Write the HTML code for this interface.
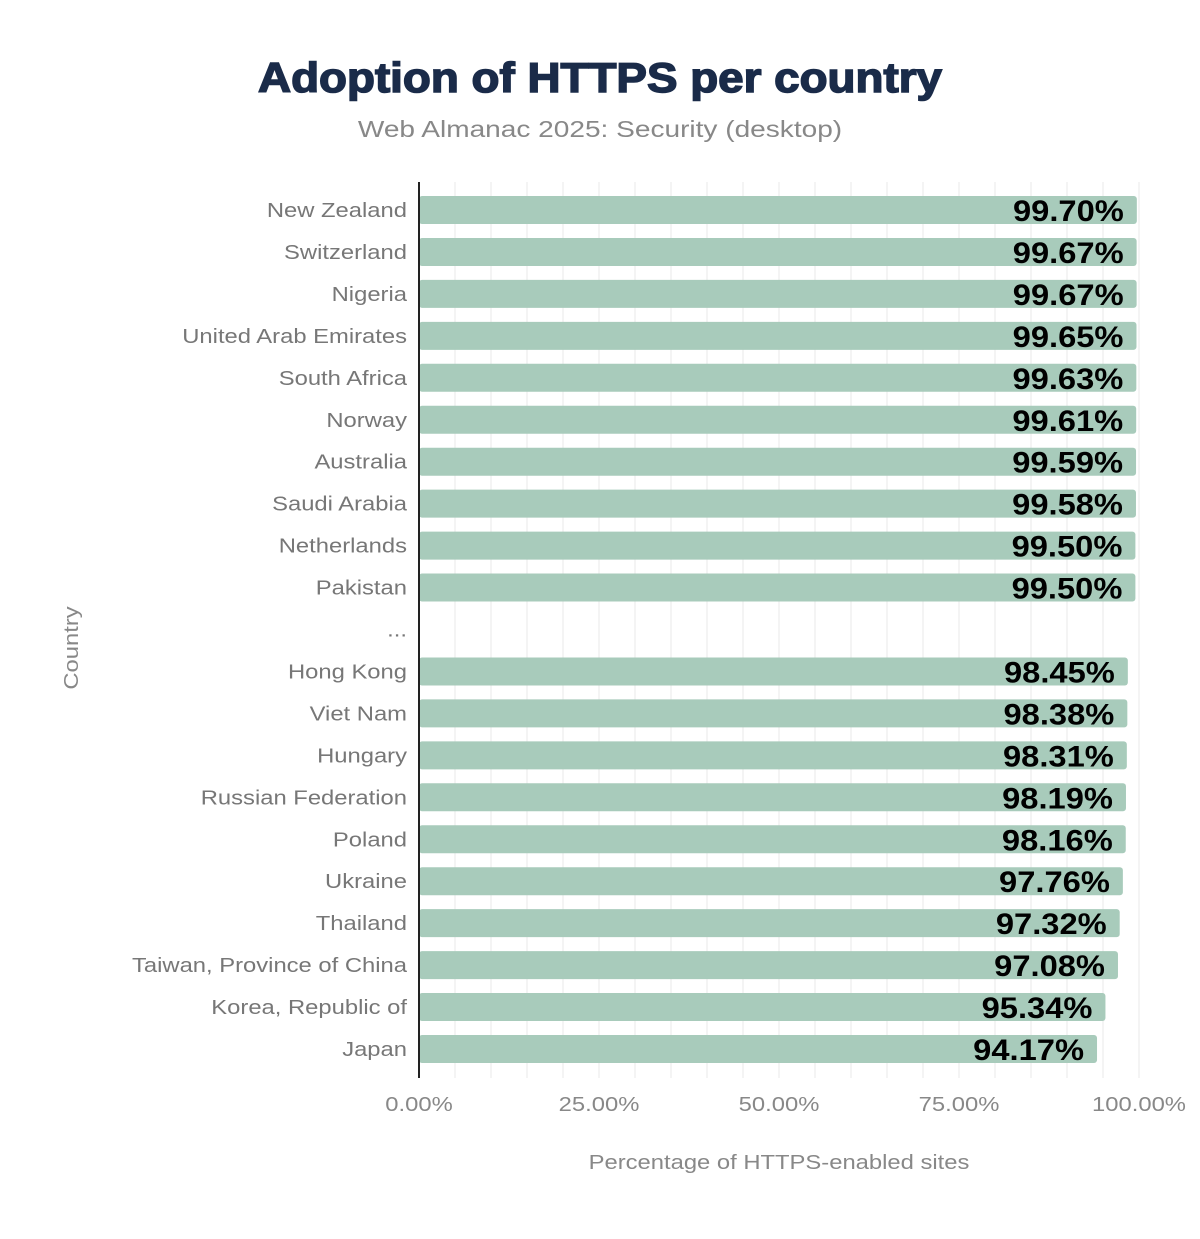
<!DOCTYPE html>
<html><head><meta charset="utf-8"><style>body{margin:0;background:#fff}</style></head><body>
<svg width="1200" height="1234" xmlns="http://www.w3.org/2000/svg" font-family="Liberation Sans, Arial, sans-serif">
<text transform="translate(600,92) scale(1.09,1)" text-anchor="middle" font-size="42" font-weight="900" fill="#1a2b49" stroke="#1a2b49" stroke-width="1.5">Adoption of HTTPS per country</text>
<text transform="translate(600,137) scale(1.22,1)" text-anchor="middle" font-size="23" fill="#888">Web Almanac 2025: Security (desktop)</text>
<g id="grid" stroke="#f0f0f0" stroke-width="1.5"></g>
<g id="bars"></g>
<line x1="419" y1="182" x2="419" y2="1078" stroke="#222" stroke-width="2"/>
<g font-size="20" fill="#888" text-anchor="middle">
<text transform="translate(419,1111) scale(1.19,1)">0.00%</text><text transform="translate(599,1111) scale(1.19,1)">25.00%</text><text transform="translate(779,1111) scale(1.19,1)">50.00%</text><text transform="translate(959,1111) scale(1.19,1)">75.00%</text><text transform="translate(1139,1111) scale(1.19,1)">100.00%</text>
</g>
<text transform="translate(779,1169) scale(1.19,1)" text-anchor="middle" font-size="20" fill="#888">Percentage of HTTPS-enabled sites</text>
<text transform="translate(78,648) rotate(-90) scale(1.19,1)" text-anchor="middle" font-size="20" fill="#888">Country</text>
</svg>
<script>
var d=[["New Zealand",99.70],["Switzerland",99.67],["Nigeria",99.67],["United Arab Emirates",99.65],["South Africa",99.63],["Norway",99.61],["Australia",99.59],["Saudi Arabia",99.58],["Netherlands",99.50],["Pakistan",99.50],["...",null],["Hong Kong",98.45],["Viet Nam",98.38],["Hungary",98.31],["Russian Federation",98.19],["Poland",98.16],["Ukraine",97.76],["Thailand",97.32],["Taiwan, Province of China",97.08],["Korea, Republic of",95.34],["Japan",94.17]];
var ns="http://www.w3.org/2000/svg",g=document.getElementById("grid"),b=document.getElementById("bars");
function el(t,a,p,txt){var e=document.createElementNS(ns,t);for(var k in a)e.setAttribute(k,a[k]);if(txt)e.textContent=txt;p.appendChild(e);return e;}
for(var i=1;i<=20;i++){var x=419+i*36;el("line",{x1:x,y1:182,x2:x,y2:1078},g);}
d.forEach(function(r,i){var cy=210+i*41.95;
el("text",{transform:"translate(407,"+(cy+7)+") scale(1.19,1)","text-anchor":"end","font-size":20,fill:"#777"},b,r[0]);
if(r[1]==null)return;var w=r[1]*7.2;
el("rect",{x:419,y:cy-14,width:w,height:28,rx:3,fill:"#a8cbbb"},b);
el("text",{transform:"translate("+(419+w-13)+","+(cy+11)+") scale(1.09,1)","text-anchor":"end","font-size":30,"font-weight":"bold",fill:"#000",stroke:"#a8cbbb","stroke-width":3,"paint-order":"stroke"},b,r[1].toFixed(2)+"%");
});
</script>
</body></html>
